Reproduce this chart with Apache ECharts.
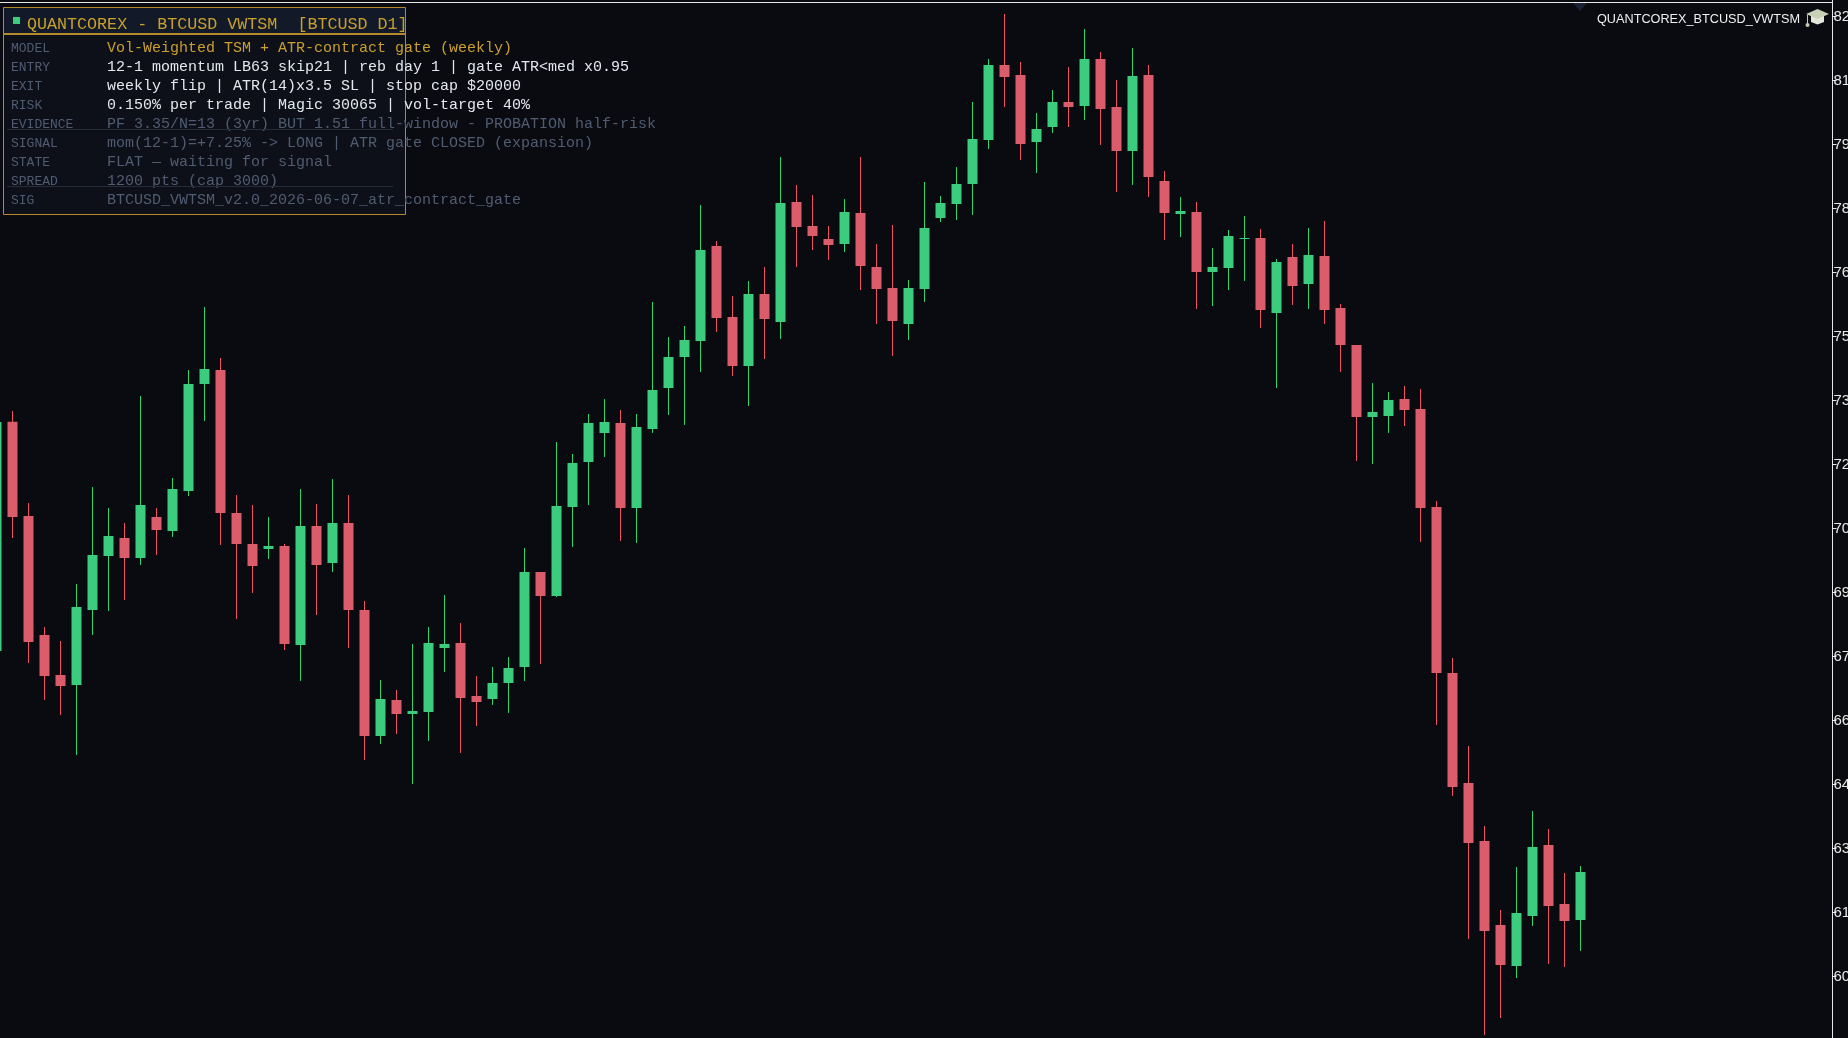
<!DOCTYPE html>
<html><head><meta charset="utf-8">
<style>html,body{margin:0;padding:0;background:#0a0b10;overflow:hidden}#c{width:1848px;height:1038px}</style>
<script src="https://cdn.jsdelivr.net/npm/echarts@6/dist/echarts.min.js"></script>
</head><body><div id="c"></div>
<script>
const opens=[67629,73000,70793,68004,67066,66832,68590,69856,70277,69809,70770,70441,71379,73887,74215,70863,70137,70020,70090,67770,70559,69691,70629,68590,65637,66481,66152,66199,67699,67816,66574,66504,66879,67254,69481,68918,71004,72059,72738,72973,70981,72832,73793,74520,74895,77121,75457,74309,75996,75340,78152,77590,77285,77168,77895,76629,76137,75293,76113,77777,78105,78574,79605,81363,81129,79559,79910,80496,80402,81504,80379,79348,81129,78645,77871,77918,76512,76605,77285,77309,75551,76863,76230,76887,75668,74801,73113,73137,73535,73301,71004,67113,64535,63176,61207,60246,61418,63082,61699,61324];
const highs=[73000,73254,71098,68191,67863,69199,71473,70981,70629,73606,70981,71684,74215,75691,74496,71285,71051,70770,70137,71426,71074,71660,71285,68801,66949,66715,67793,68191,68941,68285,67043,67254,67488,70043,69481,72527,72246,73184,73535,73277,73184,75809,74988,75246,78082,77238,75949,76301,76629,79207,78551,78316,77590,78223,79207,77168,77613,76324,78621,78293,78973,80496,81504,82559,81434,80238,80777,81316,82207,81668,81012,81762,81363,78879,78270,78152,77074,77496,77824,77520,76816,77168,77543,77707,75762,74801,73910,73699,73840,73770,71145,67465,65402,63527,61559,62566,63879,63457,62426,62590];
const lows=[67600,70277,67348,66481,66129,65191,68004,68566,68824,69645,69879,70301,71262,73020,70113,68379,68988,69785,67652,66926,68473,69481,67699,65074,65449,65684,64512,65520,67137,65238,65871,66363,66176,66926,67324,68895,70066,71051,72176,70207,70160,72738,73160,72926,74168,75105,74074,73371,74473,74941,76629,77027,76793,76980,76090,75293,74543,74918,75809,77684,77730,77848,79395,80379,79137,78832,79770,79910,80074,79488,78387,78551,78270,77262,77332,75645,75715,76090,76301,75199,73793,75738,75645,75293,74168,72082,72012,72738,72902,70184,65895,64231,60879,58629,59027,59965,61184,60293,60223,60598];
const closes=[72996,70770,67840,67043,66809,68660,69879,70324,69809,71051,70465,71426,73887,74238,70863,70137,69621,70090,67793,70559,69645,70629,68590,65637,66504,66152,66223,67816,67793,66527,66434,66879,67231,69481,68918,71027,72035,72973,72996,70981,72879,73746,74520,74918,77027,75434,74309,75996,75410,78129,77566,77355,77145,77918,76652,76113,75363,76137,77543,78129,78574,79629,81363,81082,79512,79863,80496,80379,81504,80332,79348,81105,78738,77895,77941,76512,76629,77355,77309,75621,76746,76184,76910,75621,74801,73113,73230,73512,73277,70980,67113,64441,63129,61066,60270,61488,63035,61652,61301,62449];
const priceTicks={min:58500,max:84000,interval:1500};
const slots=Array.from({length:115},(_,i)=>String(i));
const panelRows=[["MODEL","Vol-Weighted TSM + ATR-contract gate (weekly)","#c9a02c"],["ENTRY","12-1 momentum LB63 skip21 | reb day 1 | gate ATR<med x0.95","#e4e8ee"],["EXIT","weekly flip | ATR(14)x3.5 SL | stop cap $20000","#e4e8ee"],["RISK","0.150% per trade | Magic 30065 | vol-target 40%","#e4e8ee"],["EVIDENCE","PF 3.35/N=13 (3yr) BUT 1.51 full-window - PROBATION half-risk","#505c72"],["SIGNAL","mom(12-1)=+7.25% -> LONG | ATR gate CLOSED (expansion)","#505c72"],["STATE","FLAT — waiting for signal","#505c72"],["SPREAD","1200 pts (cap 3000)","#505c72"],["SIG","BTCUSD_VWTSM_v2.0_2026-06-07_atr_contract_gate","#505c72"]];
const panelTitle="QUANTCOREX - BTCUSD VWTSM  [BTCUSD D1]";
const expertName="QUANTCOREX_BTCUSD_VWTSM";
const mono="'Liberation Mono','DejaVu Sans Mono',monospace";
const gfx=[];
gfx.push({type:'rect',z:1,shape:{x:0,y:2,width:1833,height:1},style:{fill:'#e8e8e8'},silent:true});
gfx.push({type:'polygon',z:1,shape:{points:[[1573,3],[1587,3],[1580,11]]},style:{fill:'#1a2333'},silent:true});
gfx.push({type:'rect',z:20,shape:{x:3.5,y:7.5,width:402,height:207},style:{fill:'rgba(13,17,26,0.9)',stroke:'#b58a2c',lineWidth:1},silent:true});
gfx.push({type:'rect',z:21,shape:{x:4,y:8,width:401,height:25},style:{fill:'#121a29'},silent:true});
gfx.push({type:'rect',z:22,shape:{x:4,y:33,width:401,height:2},style:{fill:'#b58a2c'},silent:true});
gfx.push({type:'rect',z:22,shape:{x:13,y:17,width:7,height:7},style:{fill:'#3bcd7d'},silent:true});
gfx.push({type:'text',z:23,x:27,y:24.5,style:{text:panelTitle,font:"16.7px "+mono,fill:'#c9a02c',textVerticalAlign:'middle'},silent:true});
panelRows.forEach((r,i)=>{const y=48.2+19*i;
 gfx.push({type:'text',z:23,x:11,y:y,style:{text:r[0],font:"13px "+mono,fill:'#505c72',textVerticalAlign:'middle'},silent:true});
 gfx.push({type:'text',z:23,x:107,y:y,style:{text:r[1],font:"15px "+mono,fill:r[2],textVerticalAlign:'middle'},silent:true});
});
[129,186].forEach(y=>gfx.push({type:'rect',z:24,shape:{x:7,y:y,width:386,height:1},style:{fill:'#252c3a'},silent:true}));
gfx.push({type:'text',z:5,x:1597,y:19,style:{text:expertName,font:"12.7px 'Liberation Sans',sans-serif",fill:'#f0f0f0',textVerticalAlign:'middle'},silent:true});
gfx.push({type:'polygon',z:5,shape:{points:[[1811,16],[1824,16],[1824,22],[1817.5,24.5],[1811,22]]},style:{fill:'#e4e8da'},silent:true});
gfx.push({type:'polygon',z:5,shape:{points:[[1806,14],[1817.5,9],[1829,14],[1817.5,19]]},style:{fill:'#c8d0b8'},silent:true});
gfx.push({type:'rect',z:5,shape:{x:1807,y:15,width:1,height:9},style:{fill:'#c3cab4'},silent:true});
gfx.push({type:'circle',z:5,shape:{cx:1807.5,cy:25,r:2},style:{fill:'#c3cab4'},silent:true});
const chart=echarts.init(document.getElementById('c'),null,{renderer:'canvas'});
chart.setOption({
 animation:false,backgroundColor:'#0a0b10',
 grid:{left:-11.7,top:-47.5,width:1840,height:1088,containLabel:false,outerBoundsMode:'none'},
 xAxis:{type:'category',data:slots,show:false,boundaryGap:true},
 yAxis:{type:'value',position:'right',offset:4.2,min:priceTicks.min,max:priceTicks.max,interval:priceTicks.interval,
  splitLine:{show:false},
  axisLine:{show:true,onZero:false,lineStyle:{color:'#e8e8e8',width:1}},
  axisTick:{show:true,length:4,lineStyle:{color:'#e8e8e8',width:1}},
  axisLabel:{show:true,color:'#e8e8e8',margin:1,padding:[4,0,0,0],fontSize:15,fontFamily:"'Liberation Sans',sans-serif",formatter:v=>String(v),hideOverlap:false,showMinLabel:false,showMaxLabel:false}},
 series:[
  {type:'candlestick',name:'wick',clip:false,barWidth:1,
   data:opens.map((o,i)=>[o,closes[i],lows[i],highs[i]]),
   itemStyle:{color:'#2ed573',color0:'#f0525f',borderColor:'#2ed573',borderColor0:'#f0525f',borderWidth:1}},
  {type:'candlestick',name:'body',clip:false,barWidth:11,barGap:'-100%',
   data:opens.map((o,i)=>[o,closes[i],Math.min(o,closes[i]),Math.max(o,closes[i])]),
   itemStyle:{color:'#3bcd7d',color0:'#db5c6a',borderColor:'#3bcd7d',borderColor0:'#db5c6a',borderWidth:0}}],
 graphic:gfx
});
</script></body></html>
